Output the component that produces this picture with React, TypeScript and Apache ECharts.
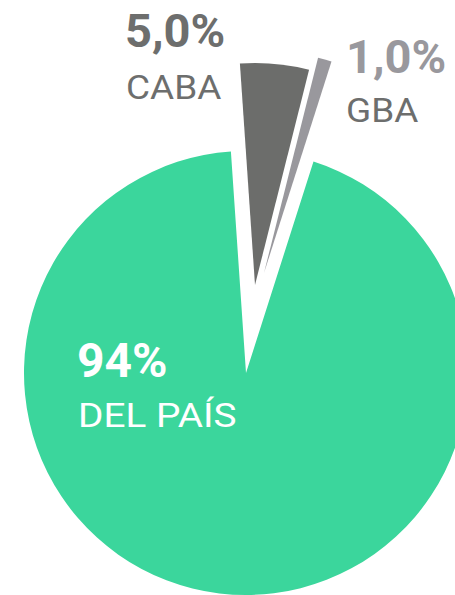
import React, { useEffect, useRef } from "react";
import * as echarts from "echarts";

const categories = ["CABA", "GBA", "DEL PAÍS"];
const values = [5.0, 1.0, 94];
const valueLabels = ["5,0%", "1,0%", "94%"];

const GREEN = "#3bd69c";
const CABA_C = "#6c6d6b";
const GBA_C = "#99989d";
const TXT_GRAY = "#6d6e6d";

function sliceSeries(visibleIdx: number[], center: [number, number], colors: string[]) {
  return {
    type: "pie",
    silent: true,
    center,
    radius: 222,
    startAngle: 93.9,
    clockwise: true,
    label: { show: false },
    labelLine: { show: false },
    emphasis: { disabled: true },
    data: categories.map((name, i) => ({
      name,
      value: values[i],
      itemStyle: {
        color: visibleIdx.includes(i) ? colors[i] : "rgba(0,0,0,0)",
        borderWidth: 0,
      },
    })),
  };
}

function txt(text: string, x: number, y: number, fill: string, font: string, scaleX = 1) {
  return {
    type: "text",
    z: 100,
    x,
    y,
    scaleX,
    silent: true,
    style: { text, x: 0, y: 0, fill, font, textVerticalAlign: "middle" },
  };
}

export default function App() {
  const ref = useRef<HTMLDivElement>(null);
  useEffect(() => {
    document.body.style.margin = "0";
    const chart = echarts.init(ref.current!, null, { renderer: "svg" });
    const colors = [CABA_C, GBA_C, GREEN];
    const f = "Roboto";
    chart.setOption({
      animation: false,
      backgroundColor: "#ffffff",
      series: [
        sliceSeries([2], [246, 373], colors),
        sliceSeries([0], [255, 285], colors),
        sliceSeries([1], [264, 273], colors),
      ],
      graphic: [
        txt(valueLabels[0], 125, 30, TXT_GRAY, `bold 47px ${f}`),
        txt(categories[0], 126, 88.5, TXT_GRAY, `33px ${f}`, 1.12),
        txt(valueLabels[1], 346, 56.5, GBA_C, `bold 47px ${f}`),
        txt(categories[1], 346, 111.5, TXT_GRAY, `33px ${f}`, 1.12),
        txt(valueLabels[2], 77, 360, "#ffffff", `bold 48px ${f}`),
        txt(categories[2], 78, 415.5, "#ffffff", `34px ${f}`, 1.14),
      ],
    });
    return () => chart.dispose();
  }, []);
  return <div ref={ref} style={{ width: 455, height: 595 }} />;
}
